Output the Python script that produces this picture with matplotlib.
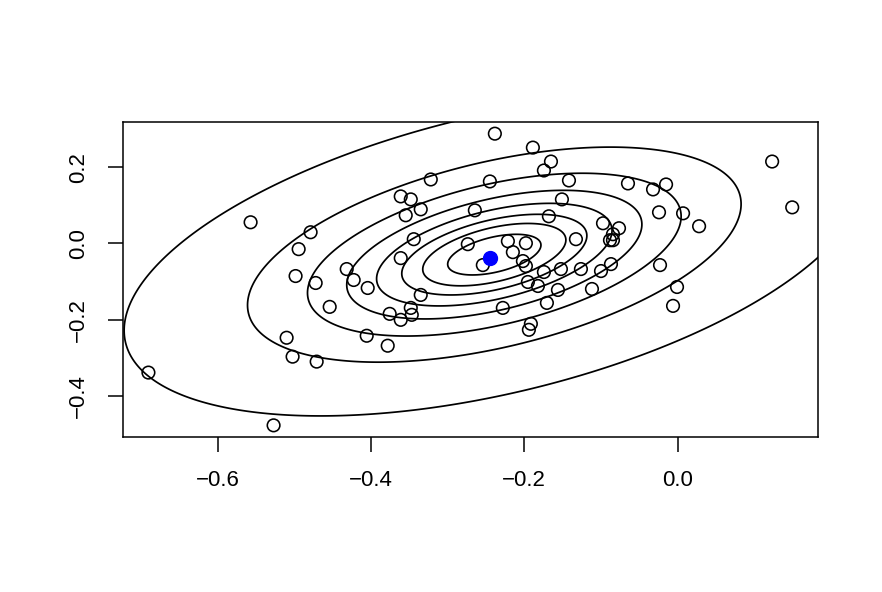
"""Scatter of samples with bivariate normal contour ellipses (R base-graphics look)."""
import matplotlib
matplotlib.use("Agg")
import matplotlib.pyplot as plt
import numpy as np

# sample points
x = [-0.6904, -0.5571, -0.5271, -0.5101, -0.5023, -0.4984, -0.4944, -0.4788,
     -0.4722, -0.4709, -0.4539, -0.4317, -0.4226, -0.4043, -0.4056, -0.3782,
     -0.3756, -0.3612, -0.3481, -0.3468, -0.3612, -0.3481, -0.3351, -0.3547,
     -0.3442, -0.3612, -0.3351, -0.3220, -0.2737, -0.2645, -0.2541, -0.2449,
     -0.2384, -0.2280, -0.2214, -0.1979, -0.2149, -0.2018, -0.1979, -0.1953,
     -0.1914, -0.1940, -0.1888, -0.1822, -0.1744, -0.1744, -0.1679, -0.1652,
     -0.1705, -0.1561, -0.1522, -0.1509, -0.1417, -0.1326, -0.1261, -0.1117,
     -0.0999, -0.0973, -0.0869, -0.0882, -0.0843, -0.0843, -0.0764, -0.0647,
     -0.0320, -0.0242, -0.0229, -0.0150, -0.0059, -0.0007, 0.0072, 0.0281,
     0.1234, 0.1496]
y = [-0.3386, 0.0553, -0.4769, -0.2473, -0.2969, -0.0856, -0.0151, 0.0292,
     -0.1038, -0.3099, -0.1664, -0.0673, -0.0960, -0.1169, -0.2421, -0.2682,
     -0.1847, -0.2004, -0.1691, -0.1873, 0.1231, 0.1153, 0.0892, 0.0736,
     0.0110, -0.0386, -0.1351, 0.1675, -0.0021, 0.0866, -0.0569, 0.1623,
     0.2875, -0.1691, 0.0057, 0.0005, -0.0230, -0.0464, -0.0595, -0.1012,
     -0.2108, -0.2265, 0.2510, -0.1117, 0.1910, -0.0751, 0.0710, 0.2145,
     -0.1560, -0.1221, -0.0673, 0.1153, 0.1649, 0.0110, -0.0673, -0.1195,
     -0.0725, 0.0527, -0.0543, 0.0083, 0.0083, 0.0240, 0.0397, 0.1571,
     0.1414, 0.0814, -0.0569, 0.1544, -0.1638, -0.1143, 0.0788, 0.0449,
     0.2145, 0.0944]

# highlighted (blue) point
mean_pt = (-0.2449, -0.0394)

# contour ellipses: centre, spread, correlation and Mahalanobis radii
mu = (-0.2391, -0.0295)
sx, sy, rho = 0.3220, 0.2818, 0.47
radii = [0.189, 0.290, 0.375, 0.477, 0.598, 0.757, 1.0, 1.50]

plt.rcParams["font.family"] = ["Liberation Sans", "DejaVu Sans"]
plt.rcParams["axes.unicode_minus"] = True

fig = plt.figure(figsize=(8.82, 5.92), dpi=100)
ax = fig.add_axes([0.1391, 0.2618, 0.9274 - 0.1391, 0.7939 - 0.2618])

# R-style 4% axis extension
xr = max(x) - min(x)
yr = max(y) - min(y)
ax.set_xlim(min(x) - 0.04 * xr, max(x) + 0.04 * xr)
ax.set_ylim(min(y) - 0.04 * yr, max(y) + 0.04 * yr)

gx = np.linspace(-1.2, 0.8, 900)
gy = np.linspace(-0.9, 0.8, 900)
X, Y = np.meshgrid(gx, gy)
dx = (X - mu[0]) / sx
dy = (Y - mu[1]) / sy
Q = (dx**2 - 2 * rho * dx * dy + dy**2) / (1 - rho**2)
ax.contour(X, Y, Q, levels=[r**2 for r in radii], colors="black", linewidths=1.25)

ax.scatter(x, y, s=82, facecolors="none", edgecolors="black", linewidths=1.15, zorder=3)
ax.scatter([mean_pt[0]], [mean_pt[1]], s=100, color="blue", zorder=4)

ax.set_xticks([-0.6, -0.4, -0.2, 0.0])
ax.set_yticks([-0.4, -0.2, 0.0, 0.2])
ax.set_xticklabels(["\u22120.6", "\u22120.4", "\u22120.2", "0.0"])
ax.set_yticklabels(["\u22120.4", "\u22120.2", "0.0", "0.2"], rotation=90, va="center")
ax.tick_params(length=11, width=1.1, labelsize=16, pad=13)
for s in ax.spines.values():
    s.set_linewidth(1.1)

fig.savefig("out.png", dpi=100)
